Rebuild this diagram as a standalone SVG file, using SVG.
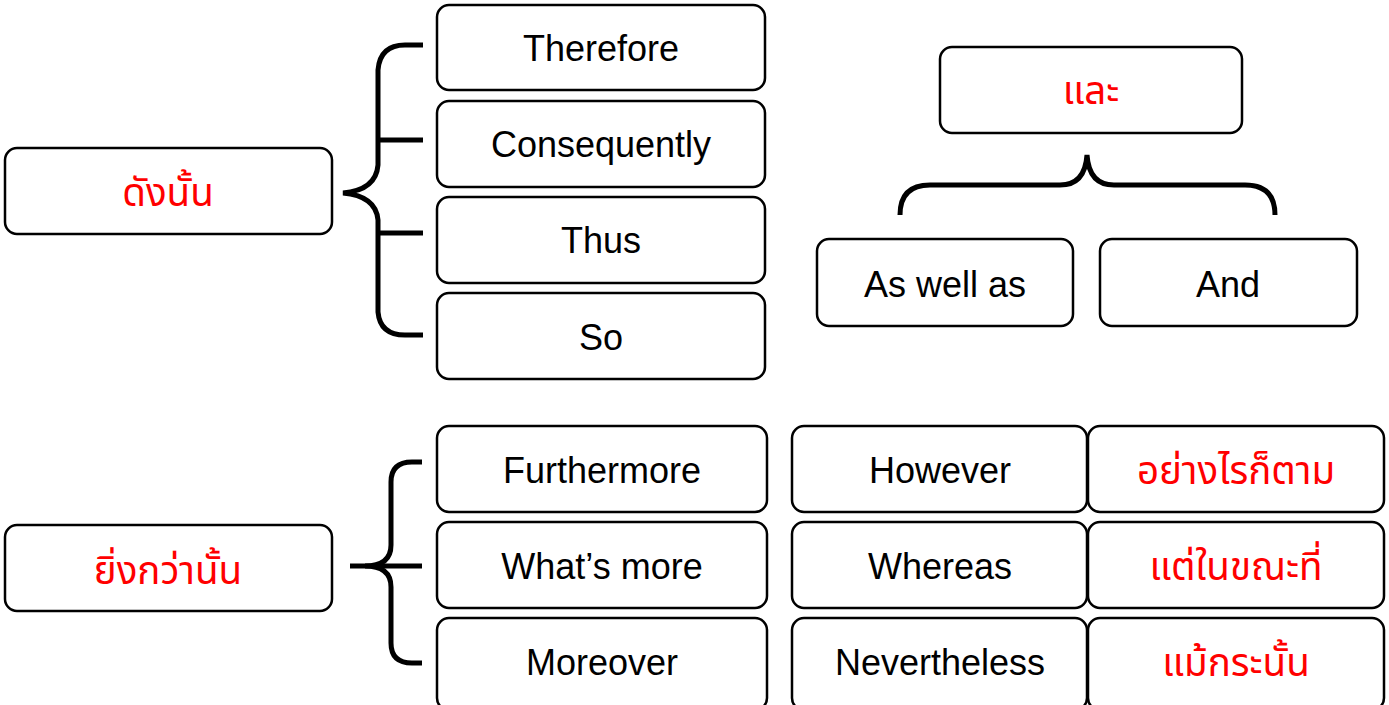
<svg xmlns="http://www.w3.org/2000/svg" width="1389" height="705" viewBox="0 0 1389 705">
<style>
.box{fill:#fff;stroke:#000;stroke-width:2.5}
.t{font-family:"Liberation Sans","Noto Sans","DejaVu Sans",sans-serif;font-size:36px;text-anchor:middle;fill:#000}
.th{fill:#ff0000;font-family:"Noto Sans Thai","Noto Sans Thai UI","Liberation Sans","Noto Sans",sans-serif;font-size:38.5px}
.br{fill:none;stroke:#000;stroke-width:5;stroke-linecap:butt}
</style>
<rect width="1389" height="705" fill="#fff"/>
<g id="connectors">
<path class="br" d="M423,45 H405 Q380,45 378,70 V165 Q376,190 343,193 Q376,196 378,220 V312 Q380,335 405,335 H423"/>
<path class="br" d="M378,140 H423 M378,233 H423"/>
<path class="br" d="M422,462 H412 Q391,462 391,482 V545 Q391,566 365,566 Q391,566 391,587 V643 Q391,663 412,663 H422"/>
<path class="br" d="M350,566 H422"/>
<path class="br" stroke-linecap="round" d="M900,215 Q900,185 930,185 H1060 Q1085,185 1087,155 Q1089,185 1114,185 H1245 Q1275,185 1275,215"/>
</g>
<g id="n-dangnan"><rect class="box" x="5" y="148" width="327" height="86" rx="12"/><text class="t th" x="168" y="206">ดังนั้น</text></g>
<g id="n-therefore"><rect class="box" x="437" y="5" width="328" height="85" rx="12"/><text class="t" x="601" y="61">Therefore</text></g>
<g id="n-consequently"><rect class="box" x="437" y="101" width="328" height="86" rx="12"/><text class="t" x="601" y="157">Consequently</text></g>
<g id="n-thus"><rect class="box" x="437" y="197" width="328" height="86" rx="12"/><text class="t" x="601" y="253">Thus</text></g>
<g id="n-so"><rect class="box" x="437" y="293" width="328" height="86" rx="12"/><text class="t" x="601" y="350">So</text></g>
<g id="n-lae"><rect class="box" x="940" y="47" width="302" height="86" rx="12"/><text class="t th" x="1091" y="104">และ</text></g>
<g id="n-aswellas"><rect class="box" x="817" y="239" width="256" height="87" rx="12"/><text class="t" x="945" y="297">As well as</text></g>
<g id="n-and"><rect class="box" x="1100" y="239" width="257" height="87" rx="12"/><text class="t" x="1228" y="297">And</text></g>
<g id="n-yingkwa"><rect class="box" x="5" y="525" width="327" height="86" rx="12"/><text class="t th" x="168" y="584">ยิ่งกว่านั้น</text></g>
<g id="n-furthermore"><rect class="box" x="437" y="426" width="330" height="86" rx="12"/><text class="t" x="602" y="483">Furthermore</text></g>
<g id="n-whatsmore"><rect class="box" x="437" y="522" width="330" height="86" rx="12"/><text class="t" x="602" y="579">What’s more</text></g>
<g id="n-moreover"><rect class="box" x="437" y="618" width="330" height="92" rx="12"/><text class="t" x="602" y="675">Moreover</text></g>
<g id="n-however"><rect class="box" x="792" y="426" width="295" height="86" rx="12"/><text class="t" x="940" y="483">However</text></g>
<g id="n-yangraikotam"><rect class="box" x="1088" y="426" width="296" height="86" rx="12"/><text class="t th" x="1236" y="484">อย่างไรก็ตาม</text></g>
<g id="n-whereas"><rect class="box" x="792" y="522" width="295" height="86" rx="12"/><text class="t" x="940" y="579">Whereas</text></g>
<g id="n-taenaikhanathi"><rect class="box" x="1088" y="522" width="296" height="86" rx="12"/><text class="t th" x="1236" y="580">แต่ในขณะที่</text></g>
<g id="n-nevertheless"><rect class="box" x="792" y="618" width="295" height="92" rx="12"/><text class="t" x="940" y="675">Nevertheless</text></g>
<g id="n-maekranan"><rect class="box" x="1088" y="618" width="296" height="92" rx="12"/><text class="t th" x="1236" y="676">แม้กระนั้น</text></g>
</svg>
